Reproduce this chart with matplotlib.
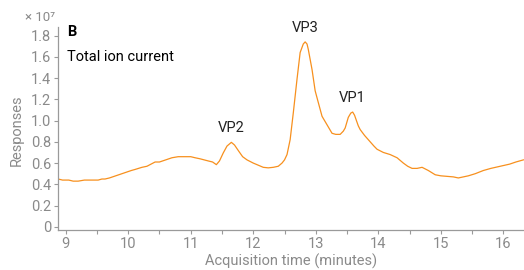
import matplotlib.pyplot as plt

plt.rcParams['font.family'] = ['Roboto', 'DejaVu Sans']

# retention time (minutes) and response (x 1e7)
time_min = [8.88, 8.95, 9.05, 9.12, 9.2, 9.3, 9.4, 9.52, 9.58, 9.63, 9.7, 9.85,
            9.95, 10.05, 10.11, 10.22, 10.3, 10.43, 10.5, 10.6, 10.7, 10.8,
            10.91, 11.0, 11.07, 11.15, 11.28, 11.35, 11.41, 11.46, 11.52, 11.58,
            11.65, 11.7, 11.77, 11.83, 11.9, 12.0, 12.08, 12.16, 12.24, 12.32,
            12.4, 12.46, 12.5, 12.54, 12.59, 12.64, 12.7, 12.75, 12.8, 12.83,
            12.86, 12.88, 12.94, 12.99, 13.04, 13.1, 13.18, 13.22, 13.26, 13.32,
            13.39, 13.44, 13.47, 13.52, 13.56, 13.59, 13.62, 13.68, 13.71, 13.78,
            13.87, 13.93, 13.98, 14.08, 14.19, 14.3, 14.4, 14.47, 14.54, 14.62,
            14.7, 14.8, 14.91, 15.0, 15.1, 15.2, 15.28, 15.36, 15.44, 15.55,
            15.68, 15.8, 15.95, 16.1, 16.2, 16.32]
response = [0.45, 0.44, 0.44, 0.43, 0.43, 0.44, 0.44, 0.44, 0.45, 0.45, 0.46, 0.49,
            0.51, 0.53, 0.54, 0.56, 0.57, 0.61, 0.61, 0.63, 0.65, 0.66,
            0.66, 0.66, 0.65, 0.64, 0.62, 0.61, 0.585, 0.62, 0.695, 0.76,
            0.795, 0.77, 0.71, 0.66, 0.63, 0.60, 0.58, 0.56, 0.555, 0.56,
            0.57, 0.60, 0.63, 0.68, 0.82, 1.07, 1.39, 1.64, 1.72, 1.74,
            1.72, 1.67, 1.48, 1.28, 1.17, 1.04, 0.96, 0.92, 0.88, 0.87,
            0.87, 0.90, 0.93, 1.03, 1.07, 1.08, 1.05, 0.95, 0.915, 0.86,
            0.80, 0.76, 0.73, 0.70, 0.68, 0.65, 0.60, 0.57, 0.55, 0.55,
            0.56, 0.53, 0.49, 0.48, 0.475, 0.47, 0.46, 0.47, 0.48, 0.50,
            0.53, 0.55, 0.57, 0.59, 0.61, 0.63]

peak_names = ['VP2', 'VP3', 'VP1']
peak_times = [11.65, 12.83, 13.59]
peak_heights = [0.795, 1.74, 1.08]

grey = '#8a8a8a'

fig = plt.figure(figsize=(5.24, 2.70), dpi=100)
ax = fig.add_axes([0.111, 0.148, 0.889, 0.752])

ax.plot(time_min, response, color='#f7901e', lw=0.9)

for name, t, h in zip(peak_names, peak_times, peak_heights):
    ax.annotate(name, (t, h), xytext=(0, 5), textcoords='offset points',
                ha='center', va='bottom', fontsize=10.5, color='#222222')

ax.set_xlim(8.88, 16.33)
ax.set_ylim(-0.03, 1.88)
ax.set_xticks(range(9, 17))
ax.set_xticks([9.5 + i for i in range(7)], minor=True)
ax.set_yticks([0, 0.2, 0.4, 0.6, 0.8, 1.0, 1.2, 1.4, 1.6, 1.8])
ax.set_yticklabels(['0', '0.2', '0.4', '0.6', '0.8', '1.0', '1.2', '1.4', '1.6', '1.8'])

for s in ['top', 'right']:
    ax.spines[s].set_visible(False)
for s in ['left', 'bottom']:
    ax.spines[s].set_color('#9a9a9a')
    ax.spines[s].set_linewidth(0.9)
ax.tick_params(which='both', colors='#9a9a9a', labelcolor=grey, labelsize=10.5,
               length=3, width=0.8, pad=2)

ax.set_xlabel('Acquisition time (minutes)', color=grey, fontsize=10.5, labelpad=2)
ax.set_ylabel('Responses', color=grey, fontsize=10.5)
ax.yaxis.set_label_coords(-0.073, 0.49)

fig.text(0.047, 0.935, '× 10⁷', color=grey, fontsize=9.5, ha='left', va='center')
ax.text(0.019, 1.01, 'B', transform=ax.transAxes, fontsize=10.5,
        fontweight='bold', va='top', ha='left')
ax.text(0.019, 0.885, 'Total ion current', transform=ax.transAxes, fontsize=10.5,
        va='top', ha='left')

fig.savefig('out.png', dpi=100)
